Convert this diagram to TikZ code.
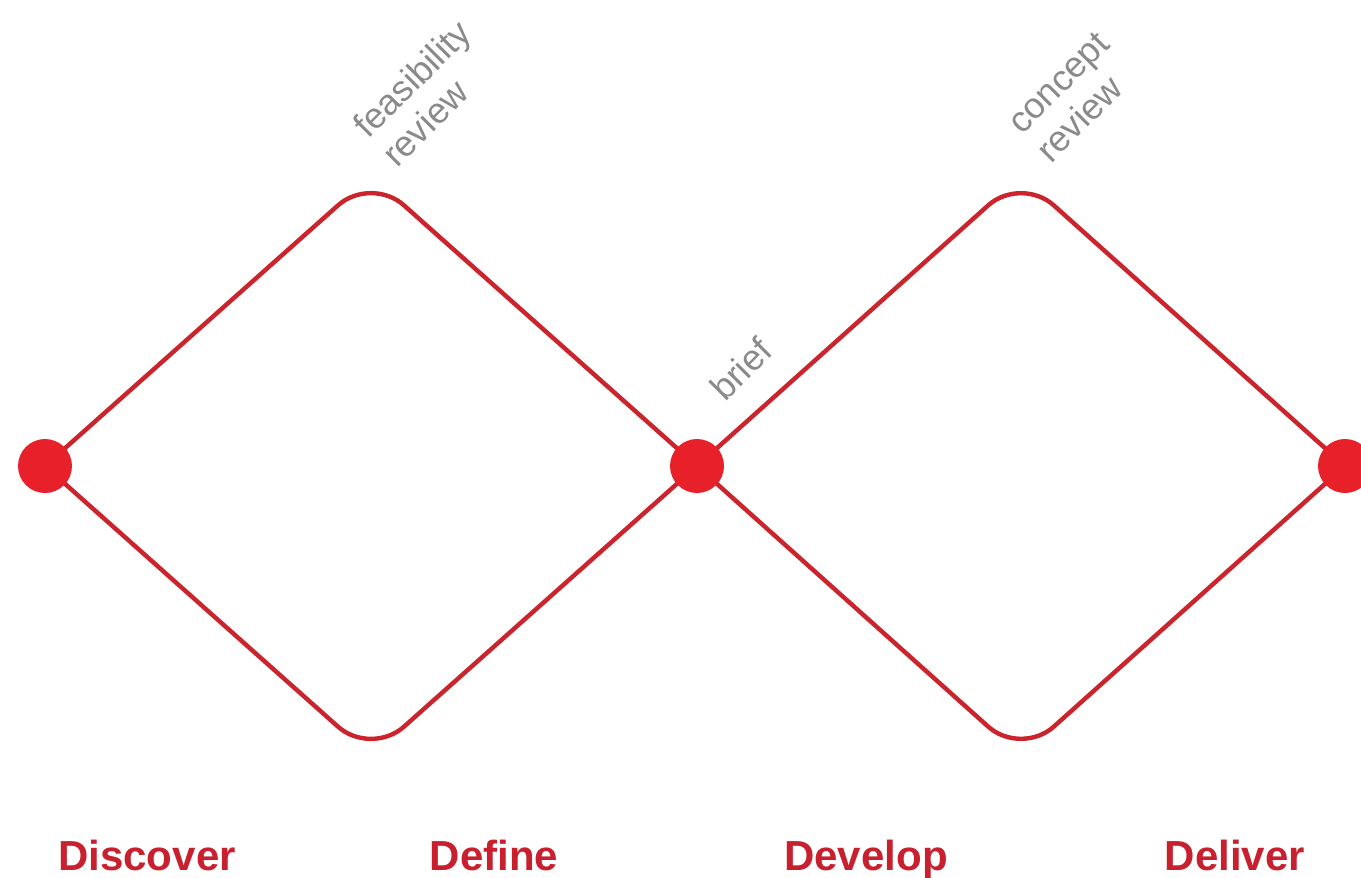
\documentclass[tikz,border=0pt]{standalone}
\usepackage{fontspec}
\setmainfont{Liberation Sans}
\usetikzlibrary{backgrounds}
\definecolor{linered}{HTML}{CC242C}
\definecolor{dotred}{HTML}{E8202A}
\definecolor{labelred}{HTML}{C8202E}
\definecolor{notegray}{HTML}{8A8A8A}
\begin{document}
\begin{tikzpicture}[x=1pt,y=-1pt,
  dot/.style={circle,fill=dotred,minimum size=54pt,inner sep=0pt},
  edge/.style={draw=linered,line width=4.4pt,rounded corners=44pt},
  phase/.style={font=\fontsize{42}{42}\selectfont\bfseries,text=labelred,anchor=base},
  note/.style={font=\fontsize{36}{41}\selectfont,text=notegray,rotate=45,align=left,inner sep=0pt}]
\useasboundingbox (0,0) rectangle (1361,878);
% dots
\node[dot] (d1) at (45,466) {};
\node[dot] (d2) at (697,466) {};
\node[dot] (d3) at (1345,466) {};
% corner coordinates
\coordinate (t1) at (371,176);
\coordinate (b1) at (371,756);
\coordinate (t2) at (1021,176);
\coordinate (b2) at (1021,756);
\begin{scope}[on background layer]
  \fill[white] (0,0) rectangle (1361,878);
  \draw[edge] (d1.center) -- (t1) -- (d2.center);
  \draw[edge] (d1.center) -- (b1) -- (d2.center);
  \draw[edge] (d2.center) -- (t2) -- (d3.center);
  \draw[edge] (d2.center) -- (b2) -- (d3.center);
\end{scope}
% gray notes
\node[note] (feas) at (426,93) {feasibility\\review};
\node[note] (brief) at (741,369) {brief};
\node[note] (conc) at (1073,97) {concept\\review};
% phase labels
\node[phase] (discover) at (147,870) {Discover};
\node[phase] (define) at (494,870) {Define};
\node[phase] (develop) at (866,870) {Develop};
\node[phase] (deliver) at (1235,870) {Deliver};
\end{tikzpicture}
\end{document}
